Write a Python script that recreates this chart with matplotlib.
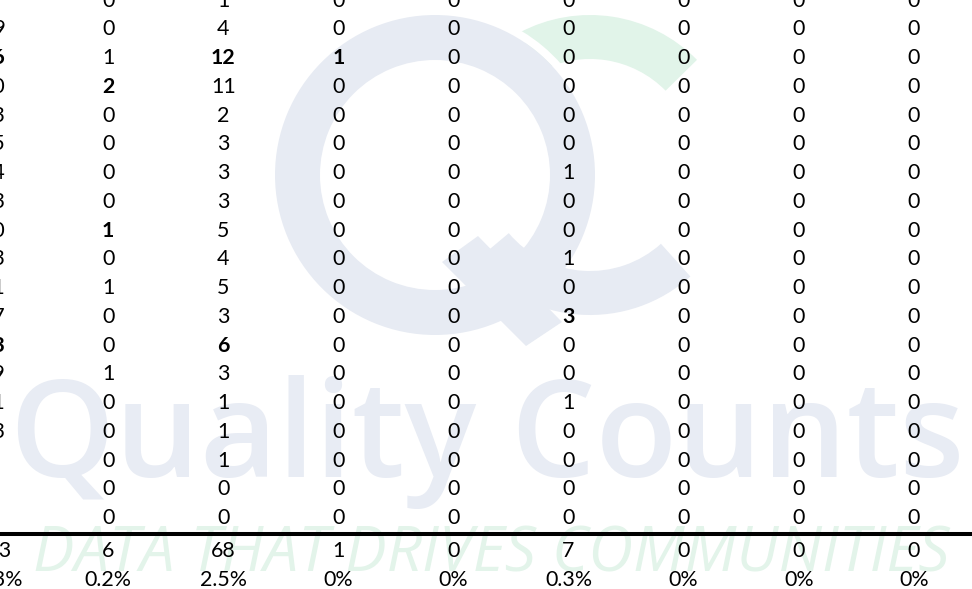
import matplotlib
matplotlib.use("Agg")
import matplotlib.pyplot as plt
from matplotlib.patches import Wedge, Polygon

# ---------------- data ----------------
# first (left) column is cut off by the crop; hidden leading digits estimated
left_col = ["", "29", "46", "40", "53", "45", "64", "33", "40", "63", "51",
            "57", "83", "59", "41", "33", "", "", ""]
col1 = [0, 0, 1, 2, 0, 0, 0, 0, 1, 0, 1, 0, 0, 1, 0, 0, 0, 0, 0]
col2 = [1, 4, 12, 11, 2, 3, 3, 3, 5, 4, 5, 3, 6, 3, 1, 1, 1, 0, 0]
col3 = [0, 0, 1, 0, 0, 0, 0, 0, 0, 0, 0, 0, 0, 0, 0, 0, 0, 0, 0]
col4 = [0, 0, 0, 0, 0, 0, 0, 0, 0, 0, 0, 0, 0, 0, 0, 0, 0, 0, 0]
col5 = [0, 0, 0, 0, 0, 0, 1, 0, 0, 1, 0, 3, 0, 0, 1, 0, 0, 0, 0]
col6 = [0, 0, 0, 0, 0, 0, 0, 0, 0, 0, 0, 0, 0, 0, 0, 0, 0, 0, 0]
col7 = [0, 0, 0, 0, 0, 0, 0, 0, 0, 0, 0, 0, 0, 0, 0, 0, 0, 0, 0]
col8 = [0, 0, 0, 0, 0, 0, 0, 0, 0, 0, 0, 0, 0, 0, 0, 0, 0, 0, 0]
totals = ["743", "6", "68", "1", "0", "7", "0", "0", "0"]
percents = ["27.3%", "0.2%", "2.5%", "0%", "0%", "0.3%", "0%", "0%", "0%"]
bold_cells = [(2, 0), (2, 2), (2, 3), (3, 1), (8, 1), (11, 5), (12, 0), (12, 2)]

columns = [left_col] + [[str(v) for v in c] for c in
                        (col1, col2, col3, col4, col5, col6, col7, col8)]

# ---------------- layout ----------------
W, H, DPI = 972, 589, 100
fig = plt.figure(figsize=(W / DPI, H / DPI), dpi=DPI)
fig.patch.set_facecolor("white")
ax = fig.add_axes([0, 0, 1, 1])
ax.set_xlim(0, W)
ax.set_ylim(H, 0)
ax.axis("off")

COL_X0, COL_DX = -7.0, 115.1
ROW_Y0, ROW_DY = -1.0, 28.75
TOT_Y, PCT_Y = 549.3, 578.3
FS = 15.4
DIGIT_H = FS / 0.72 * 0.7165
FONT = ["Lato", "DejaVu Sans"]

BLUE = "#e7ebf3"
GREEN = "#e1f4e9"

# ---------------- watermark ----------------
ax.add_patch(Wedge((590, 165), 150, -118, -44.5, width=44, facecolor=GREEN,
                   edgecolor="none", zorder=0))
ax.add_patch(Wedge((590, 165), 150, 48, 140, width=44, facecolor=BLUE,
                   edgecolor="none", zorder=0))
ax.add_patch(Wedge((435, 175), 168, -85, -15, width=8, facecolor="white",
                   edgecolor="none", zorder=0.5))
ax.add_patch(Wedge((435, 175), 160, 0, 360, width=45, facecolor=BLUE,
                   edgecolor="none", zorder=1))
ax.add_patch(Polygon([(442, 262), (478, 236), (562, 322), (526, 346)],
                     closed=True, facecolor=BLUE, edgecolor="none", zorder=1))

fig.canvas.draw()
renderer = fig.canvas.get_renderer()


def fit_text(s, x0, x1, y_base, color, **kw):
    t = ax.text(x0, y_base, s, ha="left", va="baseline", color=color,
                fontsize=100, zorder=1, **kw)
    bb = t.get_window_extent(renderer=renderer)
    t.set_fontsize(100 * (x1 - x0) / bb.width)
    return t


fit_text("Quality Counts", 10, 965, 477, "#e8ecf4",
         family=["Open Sans", "DejaVu Sans"], fontweight="semibold")
fit_text("DATA THAT DRIVES COMMUNITIES", 33, 950, 571, "#e3f4ea",
         family=["Open Sans", "DejaVu Sans"], style="italic")

# ---------------- table ----------------
for ci, col in enumerate(columns):
    x = COL_X0 + COL_DX * ci
    for ri, val in enumerate(col):
        if val == "":
            continue
        y = ROW_Y0 + ROW_DY * ri + DIGIT_H / 2
        w = "bold" if (ri, ci) in bold_cells else "normal"
        ax.text(x, y, val, ha="center", va="baseline", fontsize=FS,
                family=FONT, fontweight=w, color="black", zorder=5)
    ax.text(x, TOT_Y + DIGIT_H / 2, totals[ci], ha="center", va="baseline",
            fontsize=FS, family=FONT, color="black", zorder=5)
    ax.text(x, PCT_Y + DIGIT_H / 2, percents[ci], ha="center", va="baseline",
            fontsize=FS, family=FONT, color="black", zorder=5)

ax.plot([0, W], [534.3, 534.3], color="black", lw=2.9, solid_capstyle="butt",
        zorder=5)

fig.savefig("out.png", dpi=DPI, facecolor="white")
